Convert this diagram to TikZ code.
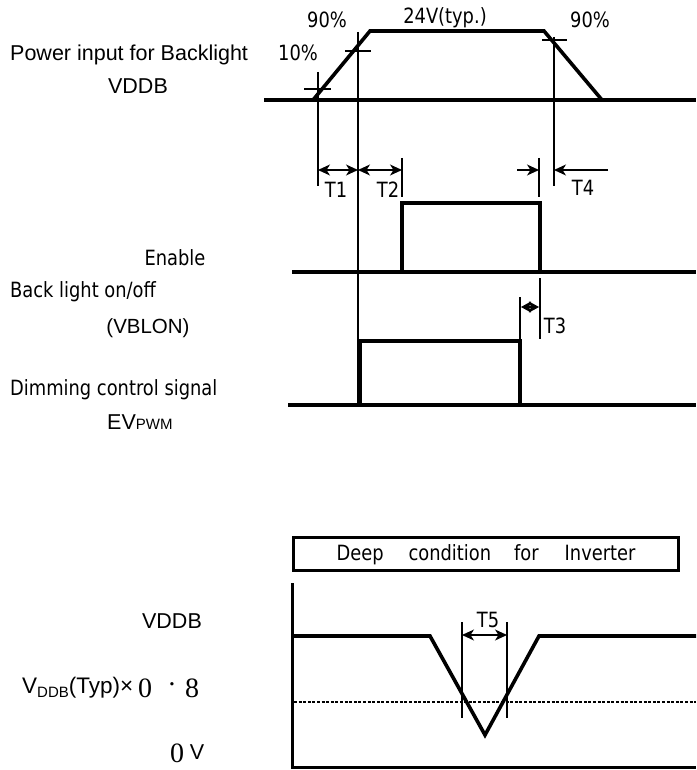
\documentclass[tikz,border=0pt]{standalone}
\usepackage{fontspec}
\setmainfont{Liberation Sans}
\newfontfamily\condfont[FakeStretch=0.85]{DejaVu Sans}
\newfontfamily\minchofont{Liberation Serif}
\usetikzlibrary{arrows.meta}

\begin{document}
\begin{tikzpicture}[x=1pt,y=-1pt,
    sig/.style={line width=3.6pt, line join=miter},
    guide/.style={line width=1.1pt},
    dim/.style={guide, {Stealth[length=12pt,width=11pt,inset=3.5pt]}-{Stealth[length=12pt,width=11pt,inset=3.5pt]}},
    tip/.style={guide, -{Stealth[length=12pt,width=11pt,inset=3.5pt]}},
    lbl/.style={font=\condfont\fontsize{21}{24}\selectfont, inner sep=0pt},
    sans/.style={font=\fontsize{21.5}{24}\selectfont, inner sep=0pt},
    digit/.style={inner sep=0pt, font=\minchofont\fontsize{28}{30}\selectfont}]
    \useasboundingbox (0,0) rectangle (696,770);

    % power input for backlight
    \draw[sig] (264,100) -- (696,100);
    \draw[sig] (313,100) -- (370,31) -- (544,31) -- (602,100);
    \draw[guide] (304,89) -- (331,89);
    \draw[guide] (318,72) -- (318,186);
    \draw[guide] (345,51) -- (371,51);
    \draw[guide] (358,32) -- (358,405);
    \draw[guide] (542,40) -- (567,40);
    \draw[guide] (554,37) -- (554,186);
    \node[lbl] (pct90a) at (327,20) {90\%};
    \node[lbl] (typ) at (445,18) {24V(typ.)};
    \node[lbl] (pct90b) at (590,20) {90\%};
    \node[lbl] (pct10) at (298,53) {10\%};
    \node[sans, anchor=west] (pwr) at (10,55) {Power input for Backlight};
    \node[sans] (vddb) at (138,86) {VDDB};

    % timings
    \draw[dim] (318,170) -- (358,170);
    \draw[dim] (358,170) -- (402,170);
    \draw[guide] (402,158) -- (402,197);
    \draw[tip] (517,170) -- (539,170);
    \draw[guide] (539,158) -- (539,197);
    \draw[tip] (608,170) -- (554,170);
    \node[lbl] (t1) at (336,190) {T1};
    \node[lbl] (t2) at (388,190) {T2};
    \node[lbl] (t4) at (583,188) {T4};

    % enable
    \draw[sig] (292,272) -- (696,272);
    \draw[sig] (402,272) -- (402,203) -- (540,203) -- (540,272);
    \node[lbl] (enable) at (175,258) {Enable};
    \node[lbl, anchor=west] (blon) at (10,292) {Back light on/off};
    \node[sans, font=\fontsize{20.5}{24}\selectfont] (vblon) at (148,328) {(VBLON)};

    % T3
    \draw[guide] (540,278) -- (540,339);
    \draw[guide] (520,297) -- (520,340);
    \draw[guide, {Stealth[length=10pt,width=11pt,inset=2pt]}-{Stealth[length=10pt,width=11pt,inset=2pt]}] (521,307) -- (539,307);
    \node[lbl] (t3) at (555,326) {T3};

    % dimming
    \draw[sig] (288,405) -- (696,405);
    \draw[sig] (360,405) -- (360,341) -- (520,341) -- (520,405);
    \node[lbl, anchor=west] (dim) at (10,390) {Dimming control signal};
    \node[sans, anchor=west] (evpwm) at (107,422) {EV{\fontsize{15}{18}\selectfont PWM}};

    % deep condition for inverter
    \draw[line width=3pt] (293,537) rectangle (678,570);
    \node[lbl] (deep) at (486,555) {Deep\hspace{25pt}condition\hspace{23pt}for\hspace{26pt}Inverter};
    \draw[line width=3pt] (292,583) -- (292,767) -- (696,767);
    \draw[sig] (292,636) -- (430,636) -- (485,735) -- (539,636) -- (696,636);
    \draw[line width=2.6pt, dash pattern=on 3pt off 1.6pt] (294,702) -- (696,702);
    \draw[guide] (462,622) -- (462,718);
    \draw[guide] (507,622) -- (507,718);
    \draw[dim] (462,635) -- (507,635);
    \node[lbl] (t5) at (488,620) {T5};

    \node[sans] (vddb2) at (172,621) {VDDB};
    \node[sans, anchor=west, font=\fontsize{22.5}{25}\selectfont] (vtyp) at (22,688) {V\raisebox{-3.5pt}{\fontsize{15}{17}\selectfont DDB}(Typ)\texttimes};
    \node[digit] (zero) at (145,688) {0};
    \node[digit] (dot) at (172,688) {\textperiodcentered};
    \node[digit] (eight) at (192,688) {8};
    \node[digit] (zerov) at (177,753) {0};
    \node[sans] (volt) at (197,752) {V};
\end{tikzpicture}
\end{document}
